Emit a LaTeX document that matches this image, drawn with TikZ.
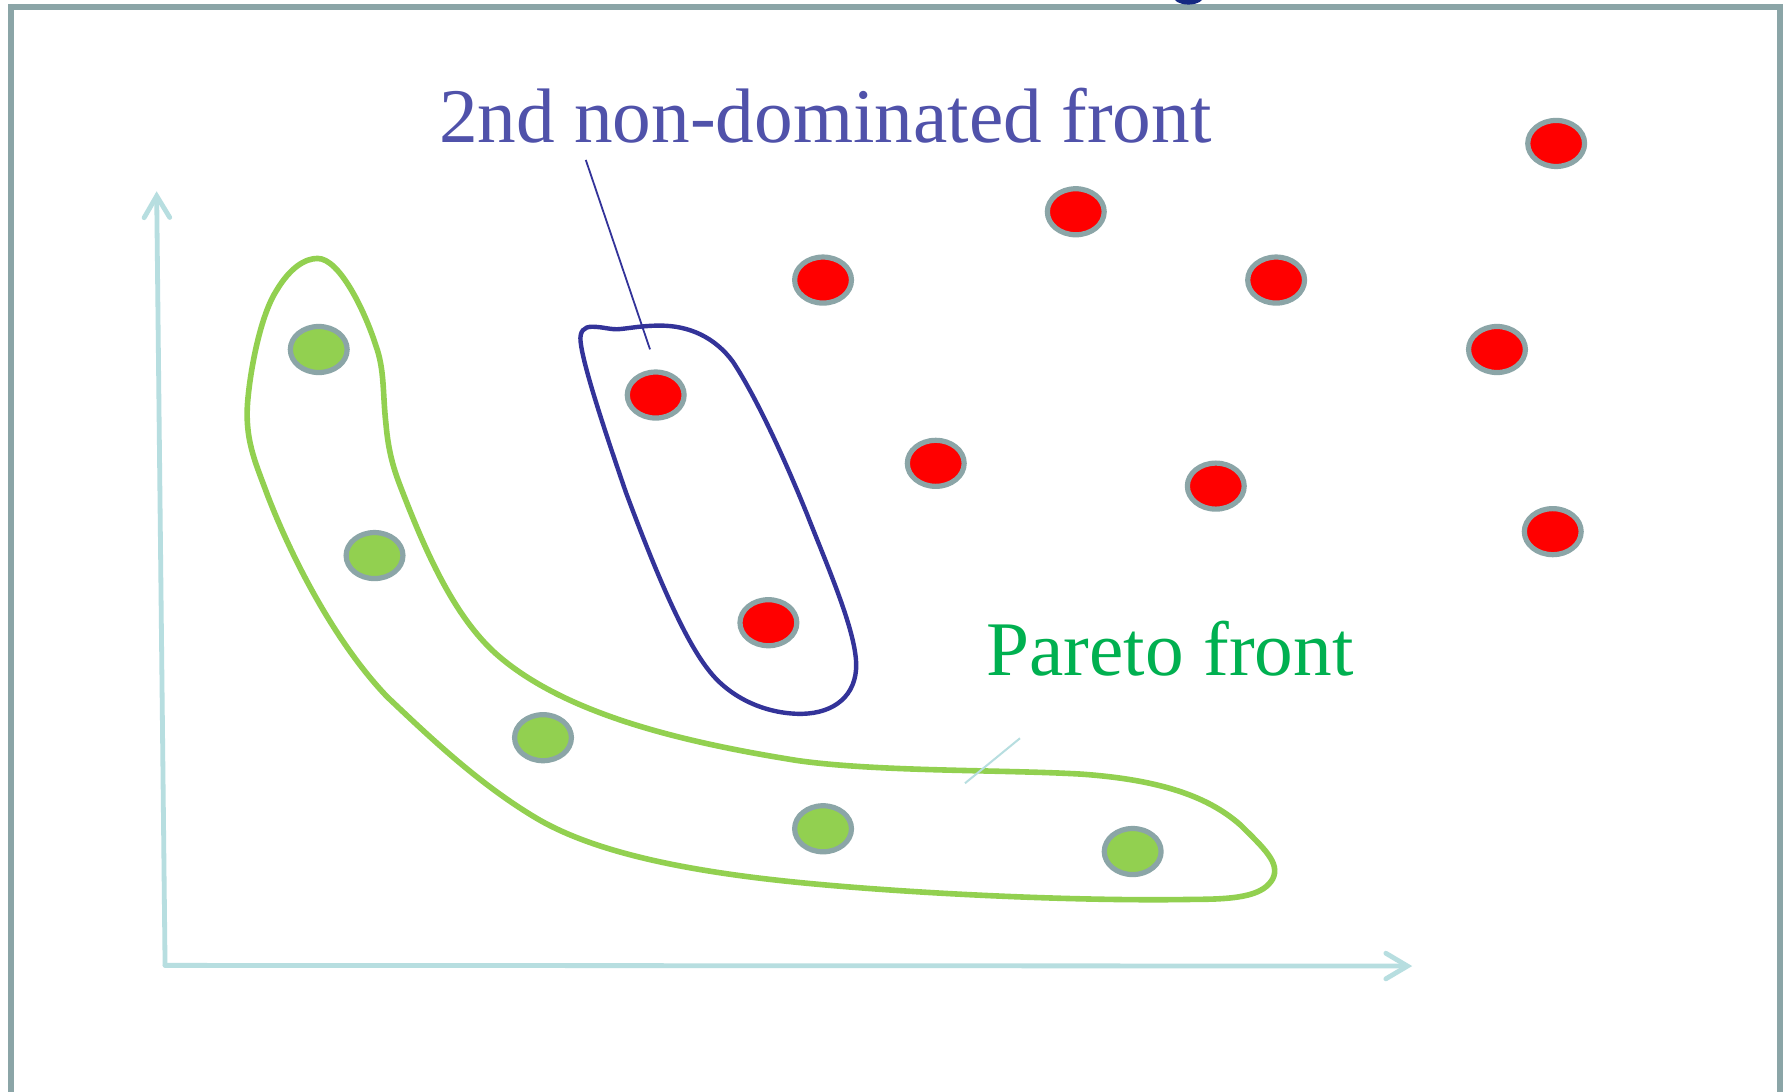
\documentclass[tikz,border=0pt]{standalone}
\usepackage{fontspec}
\setmainfont{Liberation Serif}
\usetikzlibrary{shapes.geometric,arrows.meta}
\definecolor{framegray}{RGB}{139,165,167}
\definecolor{dotgreen}{RGB}{146,208,80}
\definecolor{dotred}{RGB}{255,0,0}
\definecolor{axisblue}{RGB}{183,222,224}
\definecolor{frontblue}{RGB}{51,51,153}
\definecolor{textblue}{RGB}{80,82,170}
\definecolor{textgreen}{RGB}{0,176,80}
\definecolor{navy}{RGB}{20,40,130}
\tikzset{
  dotbase/.style={ellipse, draw=framegray, line width=1.3pt, minimum width=14.2pt, minimum height=11.5pt, inner sep=0pt},
  gdot/.style={dotbase, fill=dotgreen},
  rdot/.style={dotbase, fill=dotred},
  axisline/.style={draw=axisblue, line width=1.2pt, line cap=round, -{Straight Barb[length=5.4pt,width=6.4pt,line cap=round]}},
  label/.style={inner sep=0pt, anchor=base west, font=\fontsize{19.3}{22}\selectfont},
  greenfront/.style={draw=dotgreen, line width=1.4pt},
  bluefront/.style={draw=frontblue, line width=1.1pt},
}
\begin{document}
\begin{tikzpicture}[x=0.01cm, y=-0.01cm]
\useasboundingbox (0,0) rectangle (1568,959);
\fill[white] (0,0) rectangle (1568,959);
% frame
\draw[framegray, line width=1.5pt] (9.5,980) -- (9.5,6) -- (1563.5,6) -- (1563.5,980);
% cut-off glyph at top
\fill[navy] (1044,-4) ellipse [x radius=14, y radius=8];
% axes
\coordinate (origin) at (145,848);
\coordinate (ytip) at (137.6,168);
\coordinate (xtip) at (1240.5,848.6);
\draw[axisline] (origin) -- (ytip);
\draw[axisline] (origin) -- (xtip);
% Pareto front outline
\draw[greenfront] (279,227)
  .. controls (298,227) and (320,272) .. (330,303)
  .. controls (338,325) and (336,345) .. (339,372)
  .. controls (341,395) and (345,410) .. (352,428)
  .. controls (374,485) and (400,545) .. (440,578)
  .. controls (500,628) and (600,652) .. (700,668)
  .. controls (770,678) and (880,676) .. (950,680)
  .. controls (1020,685) and (1062,700) .. (1090,725)
  .. controls (1110,745) and (1125,758) .. (1118,772)
  .. controls (1110,786) and (1090,790) .. (1050,790)
  .. controls (950,792) and (800,785) .. (700,775)
  .. controls (600,765) and (520,748) .. (470,718)
  .. controls (420,688) and (378,648) .. (340,612)
  .. controls (295,565) and (257,492) .. (235,435)
  .. controls (224,405) and (214,385) .. (218,348)
  .. controls (221,318) and (230,275) .. (243,255)
  .. controls (255,235) and (268,227) .. (279,227) -- cycle;
% 2nd front outline
\draw[bluefront] (520,287)
  .. controls (530,287) and (537,290) .. (545,289)
  .. controls (555,288) and (565,286) .. (580,286)
  .. controls (605,286) and (628,296) .. (644,318)
  .. controls (665,350) and (690,405) .. (708.6,450.9)
  .. controls (730,505) and (754,560) .. (752,588)
  .. controls (750,615) and (728,628) .. (700,627)
  .. controls (670,626) and (640,612) .. (622,588)
  .. controls (600,560) and (575,500) .. (550,433)
  .. controls (530,375) and (512,320) .. (510,300)
  .. controls (509,291) and (513,287) .. (520,287) -- cycle;
% green dots
\node[gdot] (g1) at (280,307) {};
\node[gdot] (g2) at (329,488) {};
\node[gdot] (g3) at (477,648) {};
\node[gdot] (g4) at (723,728) {};
\node[gdot] (g5) at (995,748) {};
% red dots
\node[rdot] (r1) at (576,347) {};
\node[rdot] (r2) at (675,547) {};
\node[rdot] (r3) at (723,246) {};
\node[rdot] (r4) at (945,186) {};
\node[rdot] (r5) at (1121,246) {};
\node[rdot] (r6) at (1367,126) {};
\node[rdot] (r7) at (1315,307) {};
\node[rdot] (r8) at (822,407) {};
\node[rdot] (r9) at (1068,427) {};
\node[rdot] (r10) at (1364,467) {};
% labels
\node[label, text=textblue] (lab2) at (385,125) {2nd non-dominated front};
\node[label, text=textgreen] (labp) at (866,593) {Pareto front};
% leader lines
\coordinate (l2a) at (514.6,140.5);
\coordinate (l2b) at (571,306.9);
\draw[frontblue, line width=0.45pt] (l2a) -- (l2b);
\coordinate (lpa) at (896,648.5);
\coordinate (lpb) at (847.7,688);
\draw[axisblue, line width=0.5pt] (lpa) -- (lpb);
\end{tikzpicture}
\end{document}
